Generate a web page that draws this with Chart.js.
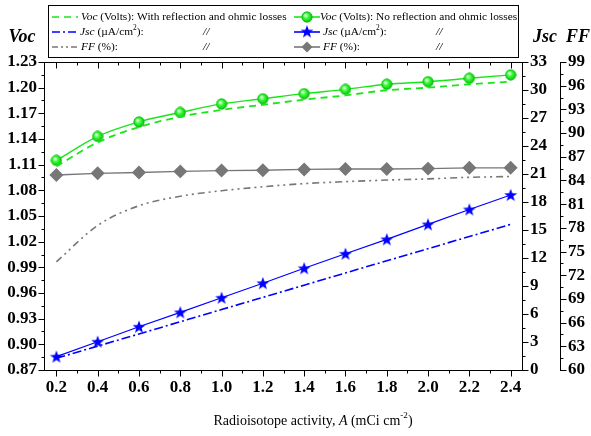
<!DOCTYPE html>
<html>
<head>
<meta charset="utf-8">
<script src="https://cdn.jsdelivr.net/npm/chart.js@4"></script>
<style>
html, body { margin: 0; padding: 0; background: #fff; }
</style>
</head>
<body>
<canvas id="fig" width="591" height="436"></canvas>
<script>
// radioisotope activity A (mCi cm-2)
const activity = [0.2, 0.4, 0.6, 0.8, 1.0, 1.2, 1.4, 1.6, 1.8, 2.0, 2.2, 2.4];

// Voc (V)
const vocLoss  = [1.108, 1.136, 1.154, 1.166, 1.174, 1.180, 1.186, 1.191, 1.197, 1.200, 1.204, 1.207];
const vocIdeal = [1.115, 1.143, 1.160, 1.171, 1.181, 1.187, 1.193, 1.198, 1.204, 1.207, 1.211, 1.215];

// Jsc (uA/cm2)
const jscLoss  = [1.25, 2.56, 3.86, 5.17, 6.48, 7.78, 9.09, 10.40, 11.70, 13.00, 14.30, 15.60];
const jscIdeal = [1.43, 3.03, 4.64, 6.18, 7.74, 9.30, 10.90, 12.45, 14.00, 15.60, 17.20, 18.75];

// FF (%)
const ffLoss  = [73.7, 78.3, 80.8, 82.0, 82.7, 83.2, 83.6, 83.85, 84.05, 84.2, 84.4, 84.5];
const ffIdeal = [84.7, 84.9, 85.0, 85.15, 85.25, 85.3, 85.4, 85.45, 85.45, 85.5, 85.6, 85.6];

// tick labels
const xTicks   = [0.2, 0.4, 0.6, 0.8, 1.0, 1.2, 1.4, 1.6, 1.8, 2.0, 2.2, 2.4];
const vocTicks = [0.87, 0.90, 0.93, 0.96, 0.99, 1.02, 1.05, 1.08, 1.11, 1.14, 1.17, 1.20, 1.23];
const jscTicks = [0, 3, 6, 9, 12, 15, 18, 21, 24, 27, 30, 33];
const ffTicks  = [60, 63, 66, 69, 72, 75, 78, 81, 84, 87, 90, 93, 96, 99];

const GREEN = '#19e619';
const BLUE = '#0000ff';
const GREY = '#777777';
const SERIF = '"Liberation Serif", "Times New Roman", serif';

function pts(ys) {
    return activity.map((a, i) => ({ x: a, y: ys[i] }));
}

// marker images
function sphereImg() {
    const c = document.createElement('canvas');
    c.width = 12; c.height = 12;
    const g = c.getContext('2d');
    const grad = g.createRadialGradient(4.5, 4.2, 0.5, 6, 6, 6);
    grad.addColorStop(0, '#f0fff0');
    grad.addColorStop(0.35, '#40ff40');
    grad.addColorStop(1, '#00b400');
    g.beginPath();
    g.arc(6, 6, 5.2, 0, Math.PI * 2);
    g.fillStyle = grad;
    g.fill();
    g.strokeStyle = '#00c000';
    g.lineWidth = 0.8;
    g.stroke();
    return c;
}

function starImg() {
    const c = document.createElement('canvas');
    c.width = 14; c.height = 14;
    const g = c.getContext('2d');
    g.beginPath();
    for (let i = 0; i < 10; i++) {
        const r = i % 2 === 0 ? 6.8 : 2.8;
        const ang = -Math.PI / 2 + i * Math.PI / 5;
        const px = 7 + r * Math.cos(ang);
        const py = 7.5 + r * Math.sin(ang);
        if (i === 0) g.moveTo(px, py); else g.lineTo(px, py);
    }
    g.closePath();
    g.fillStyle = BLUE;
    g.fill();
    return c;
}

const sphere = sphereImg();
const star = starImg();

function drawDiamond(ctx, x, y, r) {
    ctx.beginPath();
    ctx.moveTo(x, y - r);
    ctx.lineTo(x + r, y);
    ctx.lineTo(x, y + r);
    ctx.lineTo(x - r, y);
    ctx.closePath();
    ctx.fillStyle = GREY;
    ctx.fill();
}

function richText(ctx, x, y, parts, size) {
    parts.forEach(([t, st]) => {
        let fs = size, dy = 0;
        if (st === 'sup') { fs = size * 0.65; dy = -size * 0.38; }
        ctx.font = (st === 'i' ? 'italic ' : '') + fs + 'px ' + SERIF;
        ctx.fillText(t, x, y + dy);
        x += ctx.measureText(t).width;
    });
    return x;
}

function line(ctx, x1, y1, x2, y2) {
    ctx.beginPath();
    ctx.moveTo(x1, y1);
    ctx.lineTo(x2, y2);
    ctx.stroke();
}

// minor + major ticks and the top frame
const tickMarks = {
    id: 'tickMarks',
    afterDraw(chart) {
        const { ctx, chartArea: a, scales } = chart;
        ctx.save();
        ctx.strokeStyle = '#000';
        ctx.lineWidth = 1;
        const top = Math.round(a.top) + 0.5;
        const bot = Math.round(a.bottom) + 0.5;
        line(ctx, a.left, top, a.right + 0.5, top);

        xTicks.forEach((v, i) => {
            const px = Math.round(scales.x.getPixelForValue(v)) + 0.5;
            line(ctx, px, bot, px, bot + 6);
            line(ctx, px, top, px, top + 6);
            if (i < xTicks.length - 1) {
                const m = Math.round(scales.x.getPixelForValue((v + xTicks[i + 1]) / 2)) + 0.5;
                line(ctx, m, bot, m, bot + 3);
                line(ctx, m, top, m, top + 3);
            }
        });

        const yAxes = [
            [scales.yVoc, vocTicks, -1, scales.yVoc.right],
            [scales.yJsc, jscTicks, 1, scales.yJsc.left],
            [scales.yFF, ffTicks, 1, scales.yFF.left]
        ];
        yAxes.forEach(([s, tk, dir, x0]) => {
            const bx = Math.round(x0) + 0.5;
            tk.forEach((v, i) => {
                const py = Math.round(s.getPixelForValue(v)) + 0.5;
                line(ctx, bx, py, bx + dir * 6, py);
                if (i < tk.length - 1) {
                    const m = Math.round(s.getPixelForValue((v + tk[i + 1]) / 2)) + 0.5;
                    line(ctx, bx, m, bx + dir * 3, m);
                }
            });
        });
        ctx.restore();
    }
};

// axis titles and the legend box
const annotations = {
    id: 'annotations',
    afterDraw(chart) {
        const { ctx } = chart;
        ctx.save();
        ctx.fillStyle = '#000';
        ctx.textBaseline = 'middle';
        ctx.textAlign = 'center';
        ctx.font = 'bold italic 18px ' + SERIF;
        ctx.fillText('Voc', 22, 37);
        ctx.fillText('Jsc', 545, 37);
        ctx.fillText('FF', 578, 37);

        // x axis title
        ctx.textAlign = 'left';
        const xParts = [['Radioisotope activity, ', ''], ['A', 'i'], [' (mCi cm', ''], ['-2', 'sup'], [')', '']];
        let w = 0;
        xParts.forEach(([t, st]) => {
            const fs = st === 'sup' ? 14 * 0.65 : 14;
            ctx.font = (st === 'i' ? 'italic ' : '') + fs + 'px ' + SERIF;
            w += ctx.measureText(t).width;
        });
        richText(ctx, 313 - w / 2, 421, xParts, 14);

        // legend
        ctx.strokeStyle = '#000';
        ctx.lineWidth = 1;
        ctx.strokeRect(48.5, 5.5, 470, 52);
        const rows = [17, 32, 47];
        const c1 = 52, c2 = 294;
        ctx.lineWidth = 1.6;

        // column 1: with reflection and ohmic losses
        ctx.strokeStyle = GREEN;
        ctx.setLineDash([7, 5]);
        line(ctx, c1, rows[0], c1 + 26, rows[0]);
        ctx.strokeStyle = BLUE;
        ctx.setLineDash([8, 3, 2, 3]);
        line(ctx, c1, rows[1], c1 + 26, rows[1]);
        ctx.strokeStyle = GREY;
        ctx.setLineDash([6, 3, 2, 3, 2, 3]);
        line(ctx, c1, rows[2], c1 + 26, rows[2]);
        ctx.setLineDash([]);

        // column 2: no reflection and ohmic losses
        ctx.strokeStyle = GREEN;
        line(ctx, c2, rows[0], c2 + 26, rows[0]);
        ctx.drawImage(sphere, c2 + 7, rows[0] - 6);
        ctx.strokeStyle = BLUE;
        line(ctx, c2, rows[1], c2 + 26, rows[1]);
        ctx.drawImage(star, c2 + 6, rows[1] - 7.5);
        ctx.strokeStyle = GREY;
        line(ctx, c2, rows[2], c2 + 26, rows[2]);
        drawDiamond(ctx, c2 + 13, rows[2], 5.5);

        ctx.fillStyle = '#000';
        const fs = 11.4;
        richText(ctx, c1 + 29, rows[0], [['Voc', 'i'], [' (Volts): With reflection and ohmic losses', '']], fs);
        richText(ctx, c1 + 28, rows[1], [['Jsc', 'i'], [' (\u00b5A/cm', ''], ['2', 'sup'], ['):', '']], fs);
        richText(ctx, c1 + 29, rows[2], [['FF', 'i'], [' (%):', '']], fs);
        richText(ctx, 203, rows[1], [['//', 'i']], fs);
        richText(ctx, 203, rows[2], [['//', 'i']], fs);

        richText(ctx, c2 + 26, rows[0], [['Voc', 'i'], [' (Volts): No reflection and ohmic losses', '']], fs);
        richText(ctx, c2 + 29, rows[1], [['Jsc', 'i'], [' (\u00b5A/cm', ''], ['2', 'sup'], ['):', '']], fs);
        richText(ctx, c2 + 29, rows[2], [['FF', 'i'], [' (%):', '']], fs);
        richText(ctx, 436, rows[1], [['//', 'i']], fs);
        richText(ctx, 436, rows[2], [['//', 'i']], fs);
        ctx.restore();
    }
};

const tickFont = { family: SERIF, size: 17, weight: 'bold' };
const noGrid = { display: true, drawOnChartArea: false, drawTicks: false };
const frame = { display: true, color: '#000', width: 1 };

const config = {
    type: 'line',
    data: {
        datasets: [
        {
            label: 'Voc with losses',
            data: pts(vocLoss),
            yAxisID: 'yVoc',
            borderColor: GREEN,
            borderWidth: 1.8,
            borderDash: [7, 5],
            pointRadius: 0,
            cubicInterpolationMode: 'monotone'
        },
        {
            label: 'Voc no losses',
            data: pts(vocIdeal),
            yAxisID: 'yVoc',
            borderColor: GREEN,
            borderWidth: 1.4,
            pointStyle: sphere,
            pointRadius: 6,
            cubicInterpolationMode: 'monotone'
        },
        {
            label: 'Jsc with losses',
            data: pts(jscLoss),
            yAxisID: 'yJsc',
            borderColor: BLUE,
            borderWidth: 1.6,
            borderDash: [9, 3, 2, 3],
            pointRadius: 0
        },
        {
            label: 'Jsc no losses',
            data: pts(jscIdeal),
            yAxisID: 'yJsc',
            borderColor: BLUE,
            borderWidth: 1.2,
            pointStyle: star,
            pointRadius: 7
        },
        {
            label: 'FF with losses',
            data: pts(ffLoss),
            yAxisID: 'yFF',
            borderColor: GREY,
            borderWidth: 1.6,
            borderDash: [7, 4, 2, 4, 2, 4],
            pointRadius: 0,
            cubicInterpolationMode: 'monotone'
        },
        {
            label: 'FF no losses',
            data: pts(ffIdeal),
            yAxisID: 'yFF',
            borderColor: GREY,
            borderWidth: 1.4,
            pointStyle: 'rectRot',
            pointRadius: 6,
            pointBackgroundColor: GREY,
            pointBorderColor: GREY
        }
        ]
    },
    options: {
        responsive: false,
        animation: false,
        devicePixelRatio: 1,
        layout: { padding: { top: 62, left: 0, right: 0, bottom: 0 } },
        plugins: {
            legend: { display: false },
            tooltip: { enabled: false }
        },
        scales: {
            x: {
                type: 'linear',
                position: 'bottom',
                min: 0.14,
                max: 2.455,
                afterBuildTicks: s => { s.ticks = xTicks.map(v => ({ value: v })); },
                afterFit: s => { s.height = 66; },
                grid: noGrid,
                border: frame,
                ticks: {
                    font: tickFont,
                    color: '#000',
                    padding: 7,
                    maxRotation: 0,
                    callback: v => v.toFixed(1)
                }
            },
            yVoc: {
                type: 'linear',
                position: 'left',
                min: 0.87,
                max: 1.23,
                afterBuildTicks: s => { s.ticks = vocTicks.map(v => ({ value: v })); },
                afterFit: s => { s.width = 44; },
                grid: noGrid,
                border: frame,
                ticks: { font: tickFont, color: '#000', padding: 7, callback: v => v.toFixed(2) }
            },
            yJsc: {
                type: 'linear',
                position: 'right',
                min: 0,
                max: 33,
                afterBuildTicks: s => { s.ticks = jscTicks.map(v => ({ value: v })); },
                afterFit: s => { s.width = 38; },
                grid: noGrid,
                border: frame,
                ticks: { font: tickFont, color: '#000', padding: 8 }
            },
            yFF: {
                type: 'linear',
                position: 'right',
                min: 60,
                max: 99,
                afterBuildTicks: s => { s.ticks = ffTicks.map(v => ({ value: v })); },
                afterFit: s => { s.width = 31; },
                grid: noGrid,
                border: frame,
                ticks: { font: tickFont, color: '#000', padding: 8 }
            }
        }
    },
    plugins: [tickMarks, annotations]
};

const fig = new Chart(document.getElementById('fig').getContext('2d'), config);
</script>
</body>
</html>
